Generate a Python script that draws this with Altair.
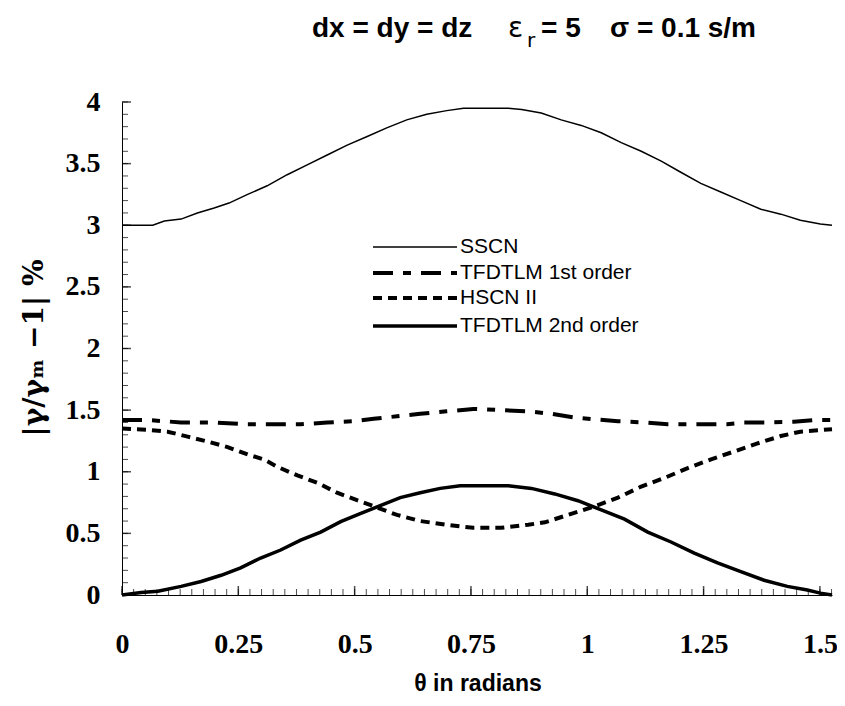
import altair as alt
import pandas as pd

# ---------------- data ----------------
series_names = ["SSCN", "TFDTLM 1st order", "HSCN II", "TFDTLM 2nd order"]

theta_sscn = [0, 0.027, 0.066, 0.091, 0.127, 0.162, 0.198, 0.230, 0.270, 0.312, 0.355, 0.398,
              0.441, 0.484, 0.527, 0.569, 0.612, 0.655, 0.698, 0.734, 0.777, 0.830, 0.859, 0.901,
              0.944, 0.987, 1.030, 1.073, 1.116, 1.159, 1.201, 1.244, 1.287, 1.330, 1.373, 1.416,
              1.458, 1.501, 1.526]
val_sscn = [3.00, 3.00, 3.00, 3.035, 3.05, 3.10, 3.14, 3.18, 3.25, 3.32, 3.41, 3.49,
            3.57, 3.65, 3.72, 3.79, 3.855, 3.90, 3.93, 3.95, 3.95, 3.95, 3.94, 3.91,
            3.855, 3.81, 3.75, 3.67, 3.60, 3.52, 3.43, 3.34, 3.27, 3.20, 3.13, 3.09,
            3.04, 3.01, 3.00]

theta_tf1 = [0, 0.055, 0.127, 0.198, 0.270, 0.341, 0.384, 0.441, 0.498, 0.541, 0.591, 0.641,
             0.698, 0.755, 0.815, 0.873, 0.923, 0.973, 1.016, 1.066, 1.123, 1.173, 1.244, 1.301,
             1.337, 1.387, 1.444, 1.487, 1.526]
val_tf1 = [1.42, 1.42, 1.40, 1.40, 1.385, 1.385, 1.385, 1.40, 1.41, 1.43, 1.45, 1.47,
           1.49, 1.51, 1.50, 1.49, 1.47, 1.44, 1.425, 1.41, 1.40, 1.385, 1.385, 1.385,
           1.40, 1.40, 1.405, 1.42, 1.42]

theta_hscn = [0, 0.055, 0.098, 0.141, 0.184, 0.227, 0.270, 0.305, 0.334, 0.377, 0.420, 0.462,
              0.505, 0.548, 0.591, 0.641, 0.698, 0.755, 0.815, 0.873, 0.909, 0.959, 1.016, 1.066,
              1.116, 1.166, 1.216, 1.266, 1.316, 1.366, 1.416, 1.458, 1.526]
val_hscn = [1.35, 1.34, 1.325, 1.285, 1.245, 1.20, 1.14, 1.10, 1.04, 0.97, 0.91, 0.83,
            0.77, 0.71, 0.65, 0.60, 0.57, 0.545, 0.545, 0.57, 0.59, 0.65, 0.72, 0.79,
            0.88, 0.95, 1.03, 1.10, 1.165, 1.23, 1.29, 1.325, 1.345]

theta_tf2 = [0, 0.041, 0.077, 0.127, 0.170, 0.213, 0.255, 0.298, 0.341, 0.384, 0.427, 0.470,
             0.512, 0.555, 0.598, 0.641, 0.684, 0.727, 0.770, 0.830, 0.880, 0.930, 0.980, 1.030,
             1.080, 1.130, 1.180, 1.230, 1.280, 1.330, 1.380, 1.430, 1.473, 1.501, 1.526]
val_tf2 = [0.0, 0.02, 0.03, 0.07, 0.11, 0.16, 0.22, 0.30, 0.365, 0.445, 0.51, 0.595,
           0.66, 0.725, 0.79, 0.83, 0.865, 0.887, 0.887, 0.887, 0.865, 0.82, 0.765, 0.69,
           0.615, 0.51, 0.43, 0.34, 0.26, 0.19, 0.12, 0.07, 0.04, 0.015, 0.0]

x_labels = [0, 0.25, 0.5, 0.75, 1, 1.25, 1.5]
y_labels = [0, 0.5, 1, 1.5, 2, 2.5, 3, 3.5, 4]
x_minor = [round(i * 0.025, 3) for i in range(62)]
y_minor = [round(i * 0.1, 1) for i in range(41)]

title_parts = ["dx = dy = dz", "ε", "r", "= 5", "σ = 0.1 s/m"]
x_title = "θ in radians"
y_title = "|γ/γₘ −1| %"

# ---------------- layout ----------------
W, H = 710, 493
xs = alt.Scale(domain=[0, 1.526], nice=False, zero=False)
ys = alt.Scale(domain=[0, 4], nice=False, zero=False)

label_expr = "format(datum.value, '.2~f')"
xaxis = alt.Axis(values=x_labels, labelExpr=label_expr, ticks=False, tickSize=0, grid=False,
                 domainColor="black", domainWidth=1, labelFont="Liberation Serif",
                 labelFontWeight="bold", labelFontSize=28, labelColor="black",
                 labelPadding=35, labelFlush=False, labelOverlap=False, title=None)
yaxis = alt.Axis(values=y_labels, labelExpr=label_expr, ticks=False, tickSize=0, grid=False,
                 domainColor="black", domainWidth=1, labelFont="Liberation Serif",
                 labelFontWeight="bold", labelFontSize=28, labelColor="black",
                 labelPadding=22, labelFlush=False, labelOverlap=False, title=None)


def series_line(th, v, name, width, dash=None):
    df = pd.DataFrame({"theta": th, "value": v, "series": name})
    kw = dict(color="black", strokeWidth=width, clip=False, strokeCap="butt")
    if dash:
        kw["strokeDash"] = dash
    return alt.Chart(df).mark_line(**kw).encode(
        x=alt.X("theta:Q", scale=xs, axis=xaxis),
        y=alt.Y("value:Q", scale=ys, axis=yaxis),
    )


styles = [
    dict(width=1.5, dash=None),
    dict(width=4, dash=[20, 10, 8, 10]),
    dict(width=4, dash=[9, 6]),
    dict(width=3.5, dash=None),
]

lines = [
    series_line(theta_sscn, val_sscn, series_names[0], **styles[0]),
    series_line(theta_tf1, val_tf1, series_names[1], **styles[1]),
    series_line(theta_hscn, val_hscn, series_names[2], **styles[2]),
    series_line(theta_tf2, val_tf2, series_names[3], **styles[3]),
]

# inward ticks
xt_minor = alt.Chart(pd.DataFrame({"t": x_minor})).mark_tick(
    orient="vertical", color="black", thickness=1, size=6).encode(
    x=alt.X("t:Q", scale=xs, axis=xaxis), y=alt.value(H - 3))
xt_major = alt.Chart(pd.DataFrame({"t": x_labels})).mark_tick(
    orient="vertical", color="black", thickness=1.5, size=9).encode(
    x=alt.X("t:Q", scale=xs, axis=xaxis), y=alt.value(H - 4.5))
yt_minor = alt.Chart(pd.DataFrame({"t": y_minor})).mark_tick(
    orient="horizontal", color="black", thickness=1, size=6).encode(
    y=alt.Y("t:Q", scale=ys, axis=yaxis), x=alt.value(3))
yt_major = alt.Chart(pd.DataFrame({"t": y_labels})).mark_tick(
    orient="horizontal", color="black", thickness=1.5, size=9).encode(
    y=alt.Y("t:Q", scale=ys, axis=yaxis), x=alt.value(4.5))

# manual legend
legend_rows_y = [145, 171, 196, 224]
legend_layers = []
for i, name in enumerate(series_names):
    st = styles[i]
    kw = dict(color="black", strokeWidth=st["width"], strokeCap="butt")
    if st["dash"]:
        kw["strokeDash"] = st["dash"]
    one = pd.DataFrame({"label": [name]})
    legend_layers.append(alt.Chart(one).mark_rule(**kw).encode(
        x=alt.value(251), x2=alt.value(335), y=alt.value(legend_rows_y[i])))
    legend_layers.append(alt.Chart(one).mark_text(
        align="left", baseline="middle", font="Liberation Sans", fontSize=21,
        color="black").encode(
        x=alt.value(338), y=alt.value(legend_rows_y[i]), text="label:N"))


def txt(s, x, y, size, weight="bold", font="Liberation Sans", align="left",
        baseline="alphabetic", angle=0):
    kw = dict(align=align, baseline=baseline, font=font, fontSize=size,
              fontWeight=weight, color="black")
    if angle:
        kw["angle"] = angle
    return alt.Chart(pd.DataFrame({"s": [s]})).mark_text(**kw).encode(
        x=alt.value(x), y=alt.value(y), text="s:N")


titles = [
    txt(title_parts[0], 190, -65, 28),
    txt(title_parts[1], 386, -65, 28, weight="normal", font="DejaVu Sans"),
    txt(title_parts[2], 405, -55, 20, weight="normal", font="DejaVu Sans"),
    txt(title_parts[3], 419, -65, 28),
    txt(title_parts[4], 488, -65, 28),
    txt(x_title, 356, 582, 23, baseline="middle", align="center"),
    txt(y_title, -87, 246, 28, font="DejaVu Serif", baseline="middle",
        align="center", angle=270),
]

chart = alt.layer(
    *lines, xt_minor, xt_major, yt_minor, yt_major, *legend_layers, *titles
).properties(
    width=W, height=H,
    autosize=alt.AutoSizeParams(type="none"),
    padding={"left": 114, "top": 94, "right": 5, "bottom": 103},
    background="white",
).configure_view(stroke=None)

chart.save("out.html", embed_options={"renderer": "svg", "actions": False})
